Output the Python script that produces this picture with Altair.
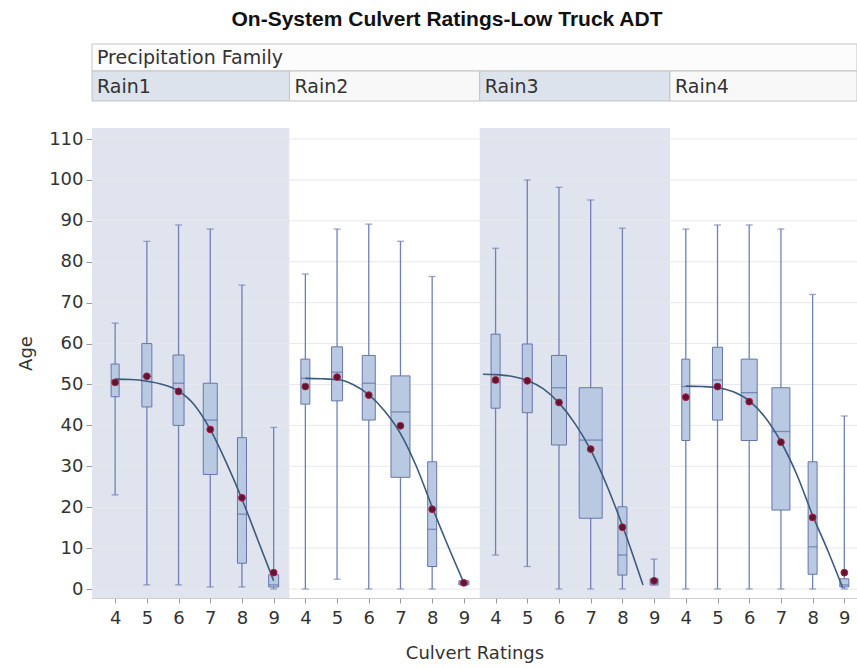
import altair as alt
import pandas as pd

TITLE = "On-System Culvert Ratings-Low Truck ADT"
HEADER_TITLE = "Precipitation Family"
X_TITLE = "Culvert Ratings"
Y_TITLE = "Age"

panels = ["Rain1", "Rain2", "Rain3", "Rain4"]
ratings = [4, 5, 6, 7, 8, 9]

# box-plot statistics, one list per panel (ratings 4..9)
w_lo = [
    [23, 1, 1, 0.5, 0.5, 0],
    [0, 2.4, 0, 0, 0, 1],
    [8.3, 5.5, 0, 0, 0, 1],
    [0, 0, 0, 0, 0, 0],
]
q1 = [
    [47, 44.5, 40, 28, 6.3, 0.5],
    [45.2, 46, 41.3, 27.3, 5.5, 1],
    [44.2, 43.1, 35.2, 17.3, 3.4, 1],
    [36.3, 41.3, 36.3, 19.3, 3.6, 0.5],
]
med = [
    [51, 52, 50.3, 41.3, 18.3, 1],
    [51.5, 53, 50.3, 43.3, 14.6, 1.5],
    [50.5, 50.8, 49.2, 36.4, 8.3, 1.5],
    [49.5, 51.1, 48, 38.5, 10.3, 1],
]
q3 = [
    [55, 60, 57.2, 50.3, 37, 3.5],
    [56.2, 59.2, 57.1, 52.1, 31.1, 2],
    [62.3, 59.9, 57.1, 49.2, 20.1, 2.5],
    [56.2, 59.1, 56.2, 49.2, 31.1, 2.5],
]
w_hi = [
    [65, 85, 89, 88, 74.3, 39.5],
    [77, 88, 89.2, 85, 76.4, 2],
    [83.3, 100, 98.2, 95.1, 88.2, 7.3],
    [88, 89, 89, 88, 72, 42.3],
]
mean = [
    [50.5, 52, 48.3, 39, 22.3, 4],
    [49.5, 51.8, 47.4, 39.9, 19.5, 1.5],
    [51.1, 50.9, 45.6, 34.2, 15.1, 2],
    [46.9, 49.5, 45.8, 35.9, 17.5, 4],
]
# relative group size (drives box width)
box_n = [
    [8, 10, 11, 14, 9, 10],
    [9, 11, 13, 19, 9, 10],
    [9, 10, 15, 23, 9, 8],
    [8, 10, 16, 18, 9, 9],
]

# fitted curve
curve_r = [
    [4, 4.5, 5, 5.5, 6, 6.5, 7, 7.5, 8, 8.5, 9],
    [4, 4.5, 5, 5.5, 6, 6.5, 7, 7.5, 8, 8.5, 9],
    [3.6, 4, 4.5, 5, 5.5, 6, 6.5, 7, 7.5, 8, 8.3, 8.65],
    [4, 4.5, 5, 5.5, 6, 6.5, 7, 7.5, 8, 8.5, 8.95],
]
curve_v = [
    [51.3, 51.2, 50.8, 50, 48.4, 45, 39, 31, 22, 12, 2],
    [51.5, 51.4, 51.2, 50, 47.5, 43.5, 38, 30, 20, 10.5, 1.5],
    [52.5, 52.4, 52, 51, 49, 45.5, 40.5, 34, 25.5, 15.5, 9, 1],
    [49.6, 49.5, 49.2, 48.2, 46, 42, 36, 28, 18, 9, 0.3],
]

y_ticks = list(range(0, 111, 10))

X_MIN, X_MAX = -0.73, 23.4
Y_MIN, Y_MAX = -2.2, 112.7
W, H = 765, 470

rows = []
for i, p in enumerate(panels):
    for j, r in enumerate(ratings):
        rows.append(dict(panel=p, idx=i, rating=r, pos=i * 6 + (r - 4),
                         lo=w_lo[i][j], q1=q1[i][j], med=med[i][j], q3=q3[i][j],
                         hi=w_hi[i][j], mean=mean[i][j], n=box_n[i][j]))
box_df = pd.DataFrame(rows)

crow = []
for i, p in enumerate(panels):
    for r, v in zip(curve_r[i], curve_v[i]):
        crow.append(dict(panel=p, cx=i * 6 + (r - 4), cy=v))
curve_df = pd.DataFrame(crow)

prow = []
for i, p in enumerate(panels):
    x0 = X_MIN if i == 0 else i * 6 - 0.5
    x1 = X_MAX if i == len(panels) - 1 else i * 6 + 5.5
    prow.append(dict(panel=p, idx=i, x0=x0, x1=x1))
panel_df = pd.DataFrame(prow)

grid_df = pd.DataFrame({"y": y_ticks})
fam_df = pd.DataFrame({"x0": [X_MIN], "x1": [X_MAX], "label": [HEADER_TITLE]})
title_df = pd.DataFrame({"t": [TITLE]})

FONT = "DejaVu Sans"
TXT = "#333333"
FS = 18
HFS = 19

xs = alt.Scale(domain=[X_MIN, X_MAX], nice=False, zero=False, padding=0)
ys = alt.Scale(domain=[Y_MIN, Y_MAX], nice=False, zero=False, padding=0)
ss = alt.Scale(domain=[0, 25], range=[0, 25])

xaxis = alt.Axis(values=list(range(24)), labelExpr="datum.value % 6 + 4",
                 title=X_TITLE, grid=False, domain=False, tickColor="#9A9A9A",
                 tickSize=5, labelFont=FONT, labelFontSize=FS, labelColor=TXT,
                 labelPadding=6, labelFlush=False, titleFont=FONT, titleFontSize=FS,
                 titleFontWeight="normal", titleColor=TXT, titleY=55,
                 titleAlign="center", titleBaseline="middle")
yaxis = alt.Axis(values=y_ticks, title=Y_TITLE, grid=False, domain=False,
                 tickColor="#9A9A9A", tickSize=6, labelPadding=3, labelFont=FONT,
                 labelFontSize=FS, labelColor=TXT, titleFont=FONT, titleFontSize=FS,
                 titleFontWeight="normal", titleColor=TXT, titleX=-66, titleY=225,
                 titleAlign="center", titleBaseline="middle")

bg = alt.Chart(panel_df).mark_rect(strokeWidth=0).encode(
    x=alt.X("x0:Q", scale=xs, axis=xaxis), x2="x1:Q",
    y=alt.value(0), y2=alt.value(H),
    color=alt.condition("datum.idx % 2 == 0", alt.value("#DFE4EE"), alt.value("#FFFFFF")),
)

grid = alt.Chart(grid_df).mark_rule(color="#E8E8EE", strokeWidth=1).encode(
    y=alt.Y("y:Q", scale=ys, axis=yaxis)
)

base = alt.Chart(box_df)
X = alt.X("pos:Q", scale=xs, axis=xaxis)

whisk = base.mark_rule(color="#7081B6", strokeWidth=1.3).encode(
    x=X, y=alt.Y("lo:Q", scale=ys, axis=yaxis), y2="hi:Q")

caps = base.transform_fold(["lo", "hi"], as_=["k", "v"]).mark_tick(
    orient="horizontal", size=7, thickness=1.3, color="#7081B6").encode(
    x=X, y=alt.Y("v:Q", scale=ys, axis=yaxis))

boxes = base.mark_bar(fill="#B9C9E2", stroke="#6577AE", strokeWidth=1).encode(
    x=X, y=alt.Y("q1:Q", scale=ys, axis=yaxis), y2="q3:Q",
    size=alt.Size("n:Q", scale=ss, legend=None))

meds = base.mark_tick(orient="horizontal", thickness=1.3, color="#5B6EA6").encode(
    x=X, y=alt.Y("med:Q", scale=ys, axis=yaxis),
    size=alt.Size("n:Q", scale=ss, legend=None))

curve = alt.Chart(curve_df).mark_line(color="#3D5B7B", strokeWidth=1.6,
                                       interpolate="monotone").encode(
    x=alt.X("cx:Q", scale=xs, axis=xaxis), y=alt.Y("cy:Q", scale=ys, axis=yaxis),
    detail="panel:N")

means = base.mark_point(shape="circle", filled=True, size=46, fill="#5E1632",
                        stroke="#A8203E", strokeWidth=1, opacity=1).encode(
    x=X, y=alt.Y("mean:Q", scale=ys, axis=yaxis))

fam_rect = alt.Chart(fam_df).mark_rect(fill="#FCFCFC", stroke="#C4C4C4", strokeWidth=1).encode(
    x=alt.X("x0:Q", scale=xs, axis=xaxis), x2="x1:Q",
    y=alt.value(-84), y2=alt.value(-57))
fam_text = alt.Chart(fam_df).mark_text(align="left", baseline="middle", font=FONT,
                                       fontSize=HFS, color=TXT, dx=5).encode(
    x=alt.X("x0:Q", scale=xs, axis=xaxis), y=alt.value(-70), text="label:N")

cell_rect = alt.Chart(panel_df).mark_rect(stroke="#C4C4C4", strokeWidth=1).encode(
    x=alt.X("x0:Q", scale=xs, axis=xaxis), x2="x1:Q",
    y=alt.value(-57), y2=alt.value(-27),
    color=alt.condition("datum.idx % 2 == 0", alt.value("#DDE3ED"), alt.value("#F8F8F8")))
cell_text = alt.Chart(panel_df).mark_text(align="left", baseline="middle", font=FONT,
                                          fontSize=HFS, color=TXT, dx=5).encode(
    x=alt.X("x0:Q", scale=xs, axis=xaxis), y=alt.value(-41), text="panel:N")

title = alt.Chart(title_df).mark_text(align="center", baseline="middle",
                                      font="Liberation Sans", fontSize=21,
                                      fontWeight="bold", color="#111111").encode(
    x=alt.value(355), y=alt.value(-108), text="t:N")

chart = alt.layer(bg, grid, whisk, caps, boxes, meds, curve, means,
                  fam_rect, fam_text, cell_rect, cell_text, title).properties(
    width=W, height=H,
    autosize=alt.AutoSizeParams(type="none"),
    padding={"left": 92, "top": 128, "right": 0, "bottom": 70},
    background="white",
).configure_view(stroke="#CFCFCF")

chart.save("out.html", embed_options={"renderer": "svg", "actions": False})
